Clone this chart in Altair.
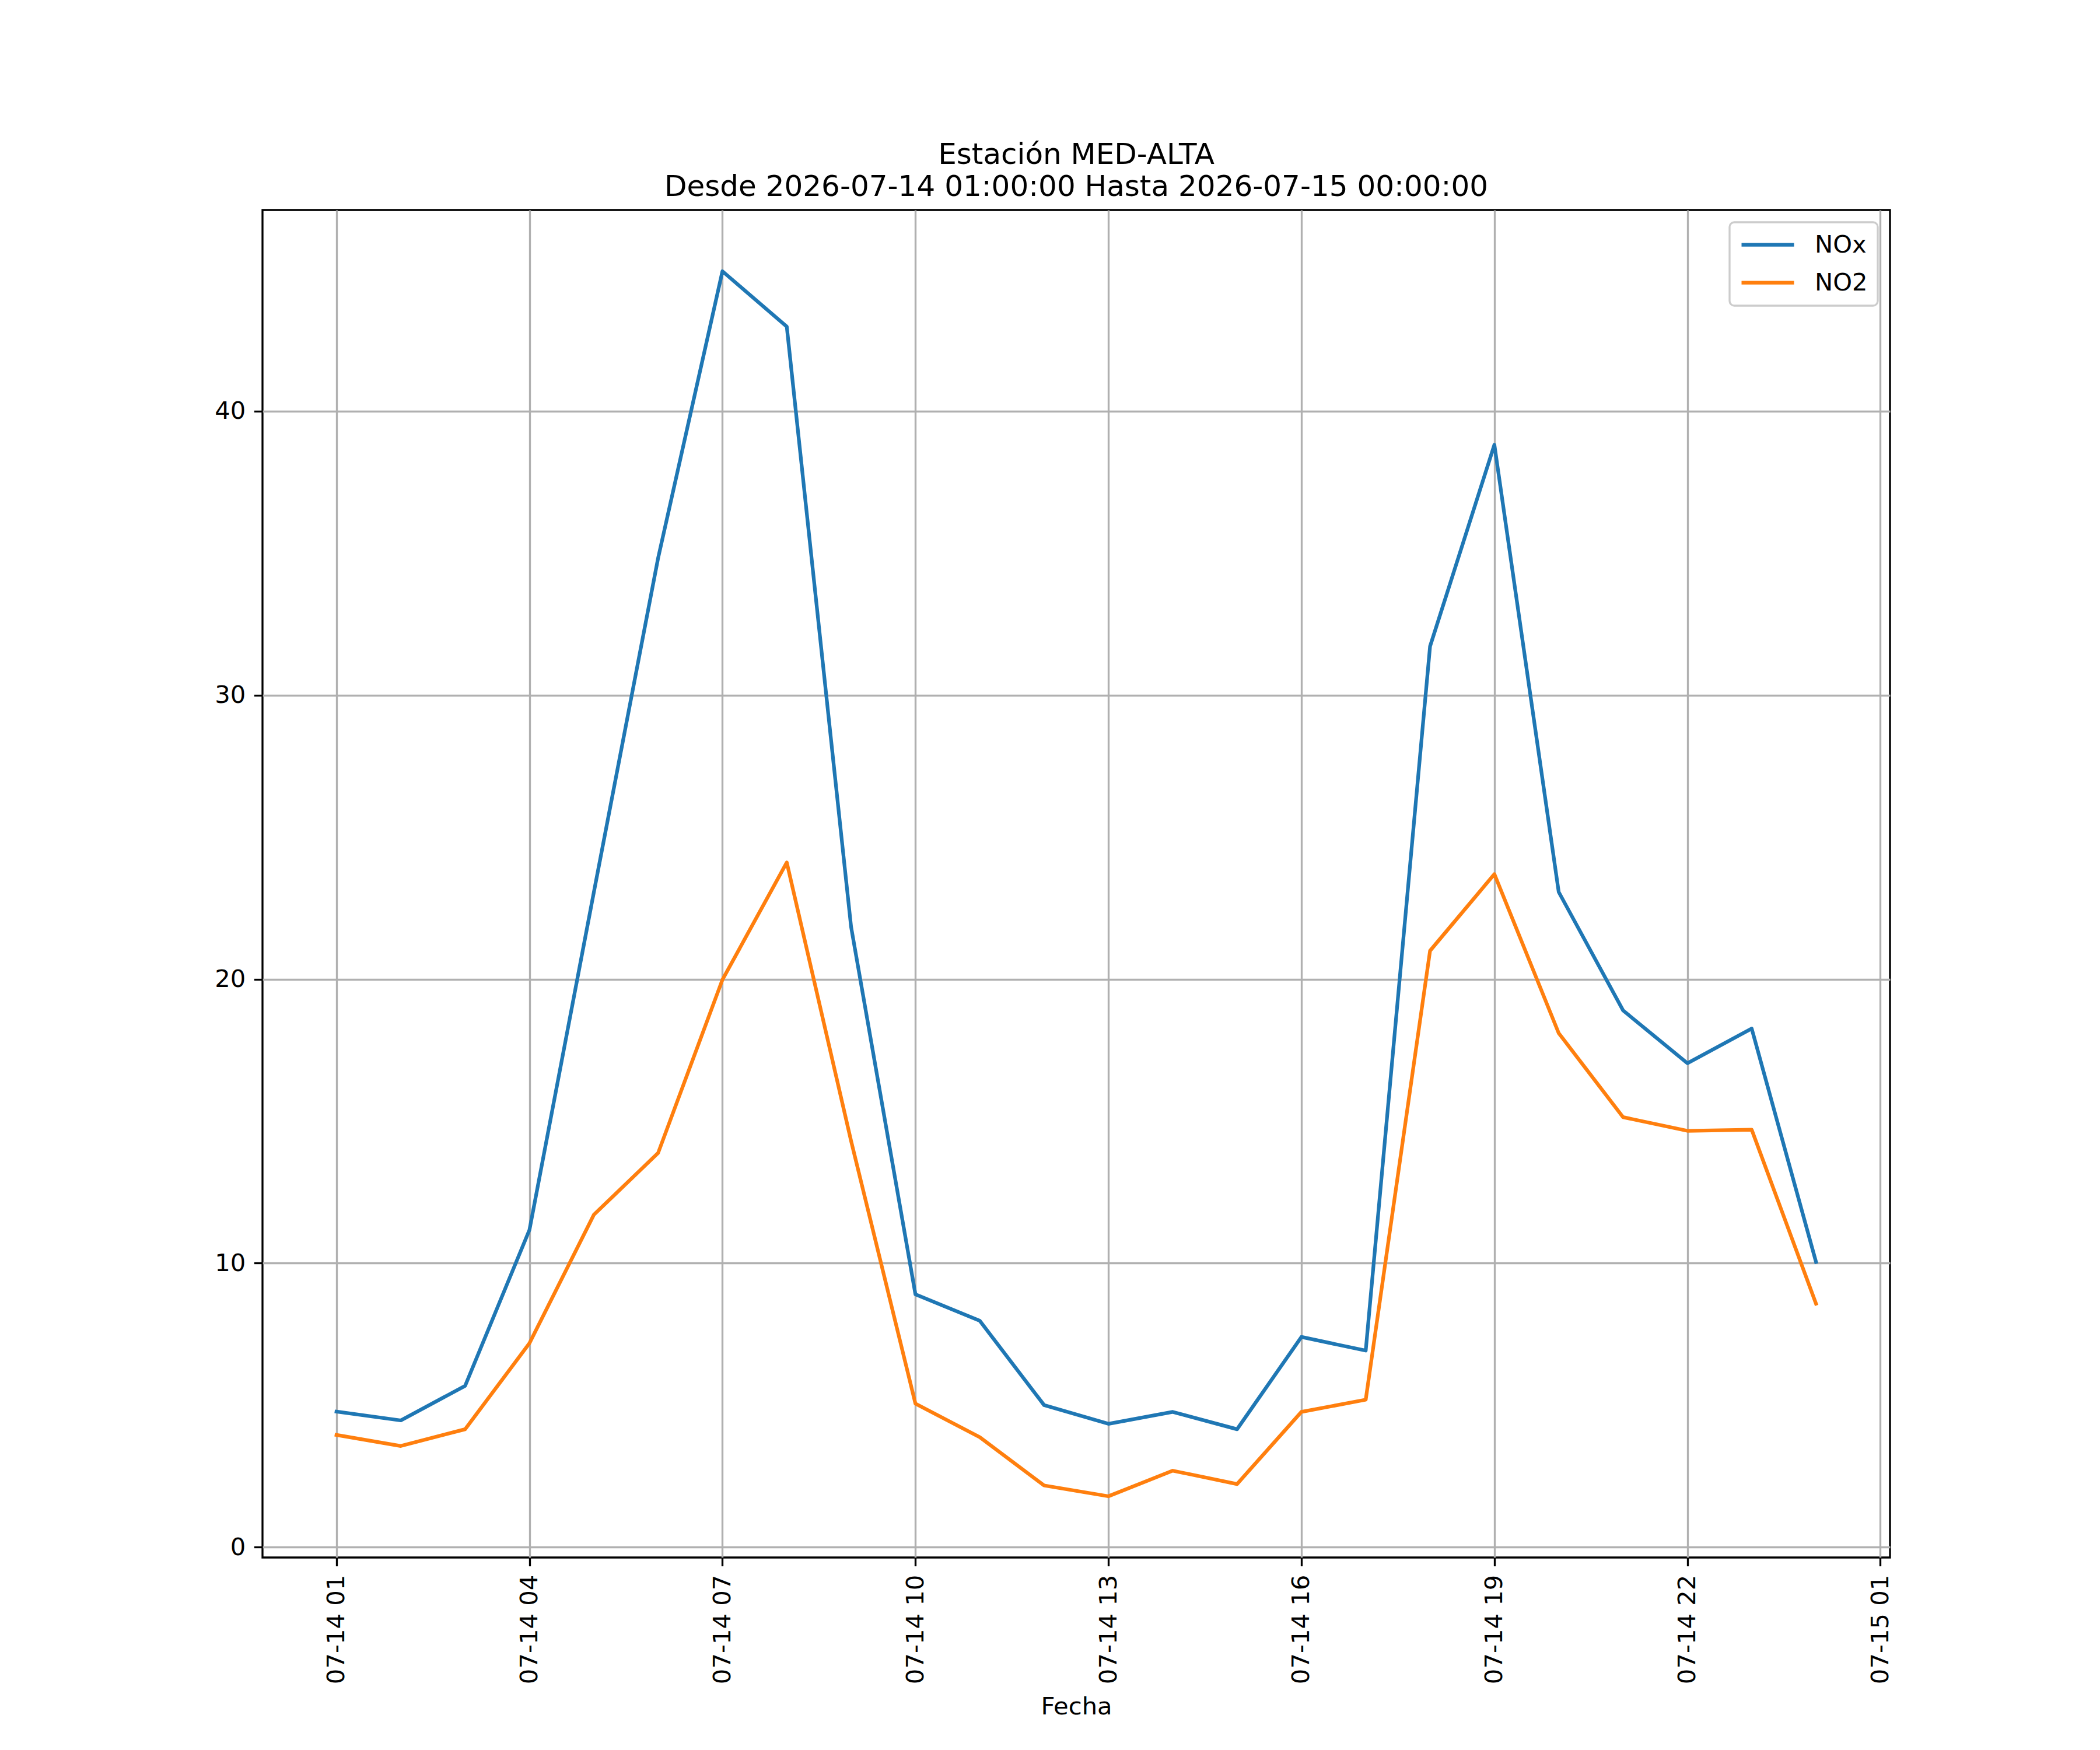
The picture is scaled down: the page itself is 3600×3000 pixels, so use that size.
import altair as alt
import pandas as pd

# ---- data ----
times = [
    "2026-07-14T01:00:00", "2026-07-14T02:00:00", "2026-07-14T03:00:00", "2026-07-14T04:00:00",
    "2026-07-14T05:00:00", "2026-07-14T06:00:00", "2026-07-14T07:00:00", "2026-07-14T08:00:00",
    "2026-07-14T09:00:00", "2026-07-14T10:00:00", "2026-07-14T11:00:00", "2026-07-14T12:00:00",
    "2026-07-14T13:00:00", "2026-07-14T14:00:00", "2026-07-14T15:00:00", "2026-07-14T16:00:00",
    "2026-07-14T17:00:00", "2026-07-14T18:00:00", "2026-07-14T19:00:00", "2026-07-14T20:00:00",
    "2026-07-14T21:00:00", "2026-07-14T22:00:00", "2026-07-14T23:00:00", "2026-07-15T00:00:00",
]
nox = [4.77, 4.46, 5.68, 11.17, 23.05, 34.83, 44.93, 42.98, 21.84, 8.90, 7.97, 5.00,
       4.34, 4.76, 4.15, 7.40, 6.92, 31.72, 38.82, 23.07, 18.90, 17.04, 18.26, 10.04]
no2 = [3.95, 3.56, 4.15, 7.18, 11.70, 13.88, 19.98, 24.11, 14.30, 5.05, 3.87, 2.17,
       1.79, 2.69, 2.22, 4.76, 5.19, 21.00, 23.70, 18.10, 15.14, 14.66, 14.70, 8.57]
series = ["NOx", "NO2"]
colors = ["#1f77b4", "#ff7f0e"]
y_ticks = [0, 10, 20, 30, 40]
x_tick_hours = [(14, 1), (14, 4), (14, 7), (14, 10), (14, 13), (14, 16), (14, 19), (14, 22), (15, 1)]
title_lines = ["Estación MED-ALTA", "Desde 2026-07-14 01:00:00 Hasta 2026-07-15 00:00:00"]

df = pd.concat([
    pd.DataFrame({"Fecha": times, "valor": nox, "serie": "NOx"}),
    pd.DataFrame({"Fecha": times, "valor": no2, "serie": "NO2"}),
])

# matplotlib-like 5% margins
allv = nox + no2
lo, hi = min(allv), max(allv)
m = 0.05 * (hi - lo)
y_domain = [lo - m, hi + m]
x_domain = [alt.DateTime(year=2026, month=7, date=13, hours=23, minutes=51),
            alt.DateTime(year=2026, month=7, date=15, hours=1, minutes=9)]
x_values = [alt.DateTime(year=2026, month=7, date=d, hours=h) for d, h in x_tick_hours]

FONT = "DejaVu Sans"
FS = 41.7
LW = 3.33

chart = alt.Chart(df).mark_line(strokeWidth=6.25, strokeJoin="round", strokeCap="square").encode(
    x=alt.X("Fecha:T", title="Fecha",
            scale=alt.Scale(domain=x_domain),
            axis=alt.Axis(values=x_values, format="%m-%d %H", labelAngle=270,
                          labelAlign="right", labelBaseline="middle", labelLimit=0,
                          labelPadding=14.6, titlePadding=35)),
    y=alt.Y("valor:Q", title=None,
            scale=alt.Scale(domain=y_domain, nice=False, zero=False),
            axis=alt.Axis(values=y_ticks, format="d", labelPadding=14.6)),
    color=alt.Color("serie:N", sort=series,
                    scale=alt.Scale(domain=series, range=colors),
                    legend=alt.Legend(title=None, orient="top-right")),
).properties(
    width=2790,
    height=2310,
    autosize=alt.AutoSizeParams(type="none"),
    padding={"left": 442, "top": 352, "right": 352, "bottom": 322},
    title=alt.TitleParams(text=title_lines, fontSize=50, font=FONT, fontWeight="normal",
                          lineHeight=55, offset=14, anchor="middle", color="black"),
).configure_view(
    stroke="black", strokeWidth=LW
).configure_axis(
    labelFont=FONT, labelFontSize=FS, labelColor="black",
    titleFont=FONT, titleFontSize=FS, titleFontWeight="normal", titleColor="black",
    domain=False, grid=True, gridColor="#b0b0b0", gridWidth=LW,
    tickColor="black", tickWidth=LW, tickSize=14.6,
    labelOverlap=False, labelFlush=False,
).configure_legend(
    labelFont=FONT, labelFontSize=FS, labelColor="black",
    symbolType="M-1,0H4", symbolSize=1296, symbolStrokeWidth=6.25,
    labelOffset=86, rowPadding=21, padding=17, offset=21,
    strokeColor="#cccccc", strokeWidth=3.3, cornerRadius=8,
    fillColor="rgba(255,255,255,0.8)",
)

chart.save("out.html", embed_options={"renderer": "svg", "actions": False})
